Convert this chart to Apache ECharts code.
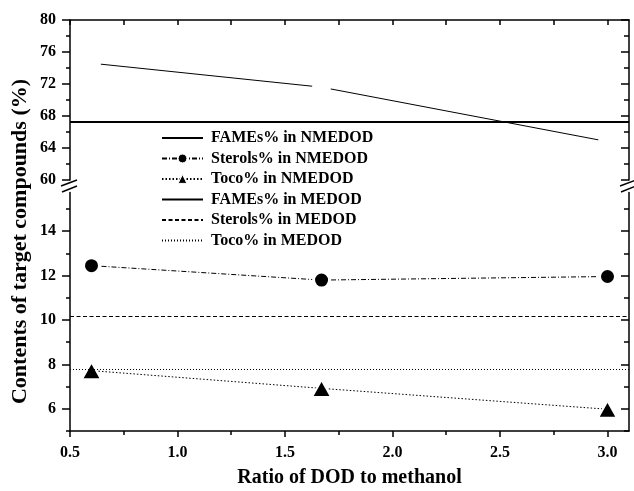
<!DOCTYPE html>
<html>
<head>
<meta charset="utf-8">
<script src="https://cdn.jsdelivr.net/npm/echarts@6/dist/echarts.min.js"></script>
<style>
html,body{margin:0;padding:0;background:#fff;}
#chart{width:634px;height:491px;}
</style>
</head>
<body>
<div id="chart"></div>
<script>
// ---- data ----
const xValues = [0.6, 1.67, 3.0];
const famesNMEDOD = [74.6, 71.6, 64.8];
const sterolsNMEDOD = [12.45, 11.8, 11.96];
const tocoNMEDOD = [7.72, 6.92, 5.98];
const famesMEDOD = 67.3;
const sterolsMEDOD = 10.18;
const tocoMEDOD = 7.8;
const seriesNames = ['FAMEs% in NMEDOD', 'Sterols% in NMEDOD', 'Toco% in NMEDOD',
                     'FAMEs% in MEDOD', 'Sterols% in MEDOD', 'Toco% in MEDOD'];
const xTickLabels = [0.5, 1.0, 1.5, 2.0, 2.5, 3.0];
const xMinorTicks = [0.75, 1.25, 1.75, 2.25, 2.75];
const xTopTicks = [0.5, 0.75, 1.0, 1.25, 1.5, 1.75, 2.0, 2.25, 2.5, 2.75, 3.0];
const lowerMajorTicks = [6, 8, 10, 12, 14];
const lowerMinorTicks = [5, 7, 9, 11, 13, 15];
const xTitle = 'Ratio of DOD to methanol';
const yTitle = 'Contents of target compounds (%)';

// ---- layout ----
const L = 70, R = 5;
const upperTop = 20, upperH = 160;
const lowerTop = 192.4, lowerBottom = 60;
const FONT = 'Liberation Serif';

function zip(xs, ys){ return xs.map((x,i)=>[x, ys[i]]); }

const chart = echarts.init(document.getElementById('chart'), null, {renderer:'canvas'});

const axisLineStyle = {show:true, lineStyle:{color:'#000', width:1.5}};
const labelStyle = {color:'#000', fontFamily:FONT, fontWeight:'bold', fontSize:16};
const hiddenIcon = {color:'rgba(0,0,0,0)', borderWidth:0};

const option = {
  animation:false,
  backgroundColor:'#fff',
  grid:[
    {left:L, right:R, top:upperTop, height:upperH},
    {left:L, right:R, top:lowerTop, bottom:lowerBottom}
  ],
  xAxis:[
    {gridIndex:0, type:'value', position:'top', min:0.5, max:3.1,
     axisLine:axisLineStyle, splitLine:{show:false}, axisLabel:{show:false},
     axisTick:{show:true, inside:true, length:5, customValues:xTopTicks, lineStyle:{color:'#000', width:1.5}}},
    {gridIndex:1, type:'value', position:'bottom', min:0.5, max:3.1,
     axisLine:axisLineStyle, splitLine:{show:false},
     axisLabel:Object.assign({show:true, margin:14, customValues:xTickLabels, formatter:v=>v.toFixed(1)}, labelStyle),
     axisTick:{show:true, inside:false, length:6, customValues:xTickLabels, lineStyle:{color:'#000', width:1.5}}},
    {gridIndex:1, type:'value', position:'bottom', min:0.5, max:3.1,
     axisLine:{show:false}, splitLine:{show:false}, axisLabel:{show:false},
     axisTick:{show:true, inside:false, length:4, customValues:xMinorTicks, lineStyle:{color:'#000', width:1.5}}}
  ],
  yAxis:[
    {gridIndex:0, type:'value', position:'left', min:60, max:80, interval:4,
     axisLine:axisLineStyle, splitLine:{show:false},
     axisLabel:Object.assign({show:true, margin:14}, labelStyle),
     axisTick:{show:true, inside:false, length:8, lineStyle:{color:'#000', width:1.5}},
     minorTick:{show:true, splitNumber:2, length:4, lineStyle:{color:'#000', width:1.5}}},
    {gridIndex:0, type:'value', position:'right', min:60, max:80, interval:4,
     axisLine:axisLineStyle, splitLine:{show:false}, axisLabel:{show:false},
     axisTick:{show:true, inside:true, length:8, lineStyle:{color:'#000', width:1.5}},
     minorTick:{show:true, splitNumber:2, length:5, lineStyle:{color:'#000', width:1.5}}},
    {gridIndex:1, type:'value', position:'left', min:5, max:15.75,
     axisLine:axisLineStyle, splitLine:{show:false},
     axisLabel:Object.assign({show:true, margin:14, customValues:lowerMajorTicks}, labelStyle),
     axisTick:{show:true, inside:false, length:8, customValues:lowerMajorTicks, lineStyle:{color:'#000', width:1.5}}},
    {gridIndex:1, type:'value', position:'left', min:5, max:15.75,
     axisLine:{show:false}, splitLine:{show:false}, axisLabel:{show:false},
     axisTick:{show:true, inside:false, length:4, customValues:lowerMinorTicks, lineStyle:{color:'#000', width:1.5}}},
    {gridIndex:1, type:'value', position:'right', min:5, max:15.75,
     axisLine:axisLineStyle, splitLine:{show:false}, axisLabel:{show:false},
     axisTick:{show:true, inside:true, length:8, customValues:lowerMajorTicks, lineStyle:{color:'#000', width:1.5}}},
    {gridIndex:1, type:'value', position:'right', min:5, max:15.75,
     axisLine:{show:false}, splitLine:{show:false}, axisLabel:{show:false},
     axisTick:{show:true, inside:true, length:5, customValues:lowerMinorTicks, lineStyle:{color:'#000', width:1.5}}}
  ],
  legend:{
    orient:'vertical', left:161, top:130, padding:0,
    itemWidth:41, itemHeight:11, itemGap:4.5,
    textStyle:{color:'#000', fontFamily:FONT, fontWeight:'bold', fontSize:16, lineHeight:16, padding:[0,0,0,3]},
    selectedMode:false,
    data:[
      {name:seriesNames[0], itemStyle:hiddenIcon},
      {name:seriesNames[1], itemStyle:{borderWidth:1}},
      {name:seriesNames[2], itemStyle:{borderWidth:1}},
      {name:seriesNames[3], itemStyle:hiddenIcon},
      {name:seriesNames[4], itemStyle:hiddenIcon},
      {name:seriesNames[5], itemStyle:hiddenIcon}
    ]
  },
  series:[
    {name:seriesNames[0], type:'line', xAxisIndex:0, yAxisIndex:0,
     data:zip(xValues, famesNMEDOD), symbol:'circle', symbolSize:19, showSymbol:true,
     itemStyle:{color:'#fff', borderWidth:0}, lineStyle:{color:'#000', width:1}, z:3},
    {name:seriesNames[1], type:'line', xAxisIndex:1, yAxisIndex:2,
     data:zip(xValues, sterolsNMEDOD), symbol:'circle', symbolSize:16,
     itemStyle:{color:'#000', borderColor:'#fff', borderWidth:3},
     lineStyle:{color:'#000', width:1, type:[5,2,1,2]}, z:3},
    {name:seriesNames[2], type:'line', xAxisIndex:1, yAxisIndex:2,
     data:zip(xValues, tocoNMEDOD), symbol:'triangle', symbolSize:[19,17],
     itemStyle:{color:'#000', borderColor:'#fff', borderWidth:2},
     lineStyle:{color:'#000', width:1, type:[1.5,2]}, z:3},
    {name:seriesNames[3], type:'line', xAxisIndex:0, yAxisIndex:0, data:[], symbol:'none',
     itemStyle:{color:'#000'}, lineStyle:{color:'#000', width:2},
     markLine:{silent:true, symbol:['none','none'], label:{show:false},
       lineStyle:{color:'#000', width:2, type:'solid'}, data:[{yAxis:famesMEDOD}]}},
    {name:seriesNames[4], type:'line', xAxisIndex:1, yAxisIndex:2, data:[], symbol:'none',
     itemStyle:{color:'#000'}, lineStyle:{color:'#000', width:1, type:[4,2.5]},
     markLine:{silent:true, symbol:['none','none'], label:{show:false},
       lineStyle:{color:'#000', width:1, type:[4,2.5]}, data:[{yAxis:sterolsMEDOD}]}},
    {name:seriesNames[5], type:'line', xAxisIndex:1, yAxisIndex:2, data:[], symbol:'none',
     itemStyle:{color:'#000'}, lineStyle:{color:'#000', width:1, type:[1,2]},
     markLine:{silent:true, symbol:['none','none'], label:{show:false},
       lineStyle:{color:'#000', width:1, type:[1,2]}, data:[{yAxis:tocoMEDOD}]}}
  ]
};
chart.setOption(option);

// axis-break marks and titles
const rightX = 634 - R;
const bY = 185.5;
function slashes(cx){
  return [
    {type:'line', shape:{x1:cx-9, y1:bY+0.5, x2:cx+7, y2:bY-5.5}, style:{stroke:'#000', lineWidth:1.5}},
    {type:'line', shape:{x1:cx-8, y1:bY+6.5, x2:cx+7, y2:bY+0.5}, style:{stroke:'#000', lineWidth:1.5}}
  ];
}
chart.setOption({
  graphic:[].concat(slashes(L), slashes(rightX), [
    {type:'text', x:(L + rightX)/2, y:478,
     style:{text:xTitle, fill:'#000', font:'bold 20px "' + FONT + '"', textAlign:'center', textVerticalAlign:'middle'}},
    {type:'text', x:20, y:241.5, rotation:Math.PI/2,
     style:{text:yTitle, fill:'#000', font:'bold 22px "' + FONT + '"', textAlign:'center', textVerticalAlign:'middle'}}
  ])
});
</script>
</body>
</html>
